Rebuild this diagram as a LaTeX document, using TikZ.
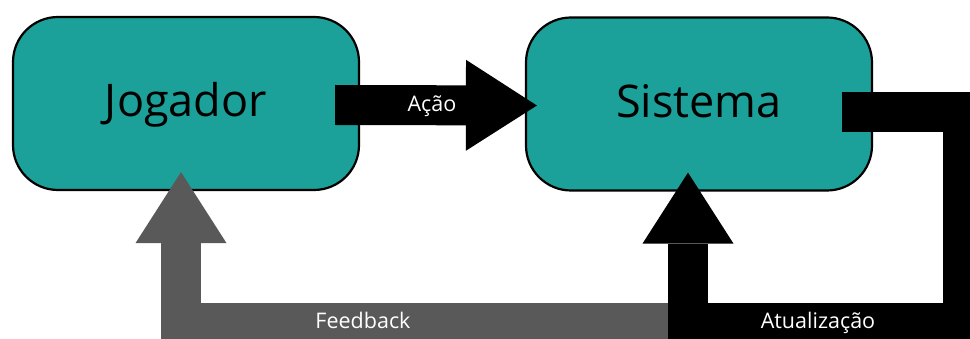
\documentclass[tikz,border=0pt]{standalone}
\usepackage{fontspec}
\setmainfont{Open Sans}
\usetikzlibrary{arrows.meta}
\definecolor{boxteal}{HTML}{1BA19A}
\definecolor{fbgray}{HTML}{595959}
\begin{document}
\begin{tikzpicture}[x=1pt,y=-1pt,
  box/.style={draw=black, line width=2.2pt, fill=boxteal, rounded corners=45pt,
    minimum width=346pt, minimum height=173pt, inner sep=0pt,
    font=\fontsize{45}{54}\selectfont, text height=36pt, text depth=9pt},
  fat/.style={line width=40pt, -{Triangle[width=91pt,length=71pt,line width=0pt]}},
  lbl/.style={text=white, font=\fontsize{21.5}{26}\selectfont, anchor=base, inner sep=0pt}]
\useasboundingbox (0,0) rectangle (970,339);
\clip (0,0) rectangle (970,339);
% boxes
\node[box] (j) at (186,103.5) {Jogador};
\node[box] (s) at (699,104) {Sistema};
% helper coordinates
\coordinate (fbtip) at ([xshift=-5pt,yshift=19pt]j.south);
\coordinate (attip) at ([xshift=-11pt,yshift=19pt]s.south);
\coordinate (atstart) at ([xshift=-31pt,yshift=-8pt]s.east);
\coordinate (rtop) at (963,112);
\coordinate (rbot) at (963,323);
\coordinate (fbstart) at (attip |- rbot);
% Acao arrow
\draw[fat, color=black] ([xshift=-25pt,yshift=-1.5pt]j.east) -- ([xshift=12pt,yshift=-1.5pt]s.west);
% Feedback arrow
\draw[fat, color=fbgray] (fbstart) -| (fbtip);
% Atualizacao arrow
\draw[fat, color=black] (atstart) -- (rtop) -- (rbot) -| (attip);
% labels
\node[lbl] (lacao) at (432,112) {Ação};
\node[lbl] (lfb) at (363,329) {Feedback};
\node[lbl] (lat) at (818,328) {Atualização};
\end{tikzpicture}
\end{document}
